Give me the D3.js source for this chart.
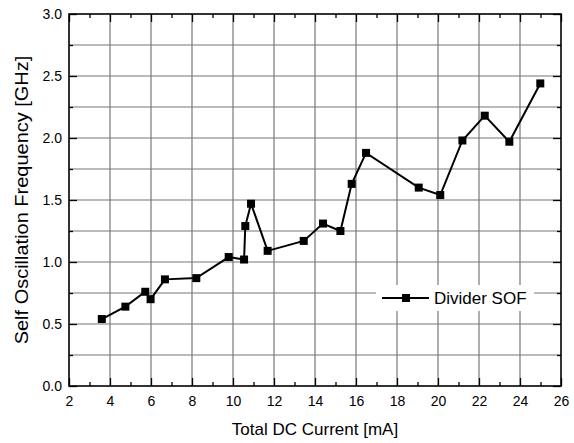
<!DOCTYPE html>
<html>
<head>
<meta charset="utf-8">
<script src="https://cdn.jsdelivr.net/npm/d3@7"></script>
<style>
  html, body { margin: 0; padding: 0; background: #fff; }
  svg { display: block; font-family: "Liberation Sans", Arial, sans-serif; }
</style>
</head>
<body>
<svg id="chart" width="574" height="443"></svg>
<script>
// Measured self-oscillation frequency of the divider vs. total DC current
const current = [3.6, 4.75, 5.72, 5.98, 6.68, 8.21, 9.79, 10.54, 10.6, 10.88, 11.69,
                 13.45, 14.39, 15.24, 15.79, 16.49, 19.06, 20.11, 21.19, 22.28, 23.48, 24.99];
const freq = [0.54, 0.64, 0.76, 0.70, 0.86, 0.87, 1.04, 1.02, 1.29, 1.47, 1.09,
              1.17, 1.31, 1.25, 1.63, 1.88, 1.60, 1.54, 1.98, 2.18, 1.97, 2.44];
const xTicks = [2, 4, 6, 8, 10, 12, 14, 16, 18, 20, 22, 24, 26];
const xMinorTicks = [3, 5, 7, 9, 11, 13, 15, 17, 19, 21, 23, 25];
const yTicks = [0, 0.5, 1.0, 1.5, 2.0, 2.5, 3.0];
const yMinorTicks = [0.25, 0.75, 1.25, 1.75, 2.25, 2.75];
const seriesName = "Divider SOF";
const xTitle = "Total DC Current [mA]";
const yTitle = "Self Oscillation Frequency [GHz]";

const W = 574, H = 443;
const margin = { left: 69, top: 14, right: 13, bottom: 57 };
const pw = W - margin.left - margin.right;
const ph = H - margin.top - margin.bottom;

const svg = d3.select("#chart");
const g = svg.append("g").attr("transform", `translate(${margin.left},${margin.top})`);

const x = d3.scaleLinear().domain([2, 26]).range([0, pw]);
const y = d3.scaleLinear().domain([0, 3]).range([ph, 0]);

// grid
const grid = g.append("g").attr("stroke", "#777").attr("stroke-width", 1.2);
grid.selectAll("line.v").data(xTicks.slice(1, -1)).join("line")
  .attr("x1", d => x(d)).attr("x2", d => x(d))
  .attr("y1", 0).attr("y2", ph);
grid.selectAll("line.h").data(yTicks.slice(1, -1).concat(yMinorTicks)).join("line")
  .attr("y1", d => y(d)).attr("y2", d => y(d))
  .attr("x1", 0).attr("x2", pw);

function styleAxis(sel) {
  sel.select(".domain").remove();
  sel.selectAll(".tick line").attr("stroke", "#000").attr("stroke-width", 1.3);
  sel.selectAll(".tick text").attr("fill", "#000").style("font-size", "14px")
    .style("font-family", "'Liberation Sans', Arial, sans-serif");
}

// bottom axis (ticks pointing inward)
g.append("g").attr("transform", `translate(0,${ph})`)
  .call(d3.axisBottom(x).tickValues(xTicks).tickSize(-8).tickPadding(10).tickFormat(d3.format("d")))
  .call(styleAxis);
g.append("g").attr("transform", `translate(0,${ph})`)
  .call(d3.axisBottom(x).tickValues(xMinorTicks).tickSize(-4).tickFormat(""))
  .call(styleAxis);
// top mirror ticks
g.append("g")
  .call(d3.axisTop(x).tickValues(xTicks).tickSize(-8).tickFormat(""))
  .call(styleAxis);
g.append("g")
  .call(d3.axisTop(x).tickValues(xMinorTicks).tickSize(-4).tickFormat(""))
  .call(styleAxis);
// left axis
g.append("g")
  .call(d3.axisLeft(y).tickValues(yTicks).tickSize(-8).tickPadding(7).tickFormat(d3.format(".1f")))
  .call(styleAxis);
g.append("g")
  .call(d3.axisLeft(y).tickValues(yMinorTicks).tickSize(-4).tickFormat(""))
  .call(styleAxis);
// right mirror ticks
g.append("g").attr("transform", `translate(${pw},0)`)
  .call(d3.axisRight(y).tickValues(yTicks).tickSize(-8).tickFormat(""))
  .call(styleAxis);
g.append("g").attr("transform", `translate(${pw},0)`)
  .call(d3.axisRight(y).tickValues(yMinorTicks).tickSize(-4).tickFormat(""))
  .call(styleAxis);

// frame
g.append("rect").attr("x", 0).attr("y", 0).attr("width", pw).attr("height", ph)
  .attr("fill", "none").attr("stroke", "#000").attr("stroke-width", 1.6);

// data series
const pts = current.map((c, i) => [c, freq[i]]);
g.append("path").datum(pts)
  .attr("fill", "none").attr("stroke", "#000").attr("stroke-width", 2)
  .attr("d", d3.line().x(d => x(d[0])).y(d => y(d[1])));
const ms = 8;
g.selectAll("rect.pt").data(pts).join("rect")
  .attr("x", d => x(d[0]) - ms / 2).attr("y", d => y(d[1]) - ms / 2)
  .attr("width", ms).attr("height", ms).attr("fill", "#000");

// legend
const lg = svg.append("g").attr("transform", "translate(382,298)");
lg.append("rect").attr("x", -6).attr("y", -13).attr("width", 158).attr("height", 26).attr("fill", "#fff");
lg.append("line").attr("x1", 0).attr("x2", 47).attr("y1", 0).attr("y2", 0)
  .attr("stroke", "#000").attr("stroke-width", 2);
lg.append("rect").attr("x", 24 - ms / 2).attr("y", -ms / 2).attr("width", ms).attr("height", ms).attr("fill", "#000");
lg.append("text").attr("x", 52).attr("y", 6).style("font-size", "17px").attr("fill", "#000").text(seriesName);

// axis titles
svg.append("text").attr("x", margin.left + pw / 2).attr("y", 435)
  .attr("text-anchor", "middle").style("font-size", "17px").attr("fill", "#000").text(xTitle);
svg.append("text").attr("transform", `translate(28,${margin.top + ph / 2}) rotate(-90) scale(1.08,1)`)
  .attr("text-anchor", "middle").style("font-size", "18.5px").attr("fill", "#000").text(yTitle);
</script>
</body>
</html>
